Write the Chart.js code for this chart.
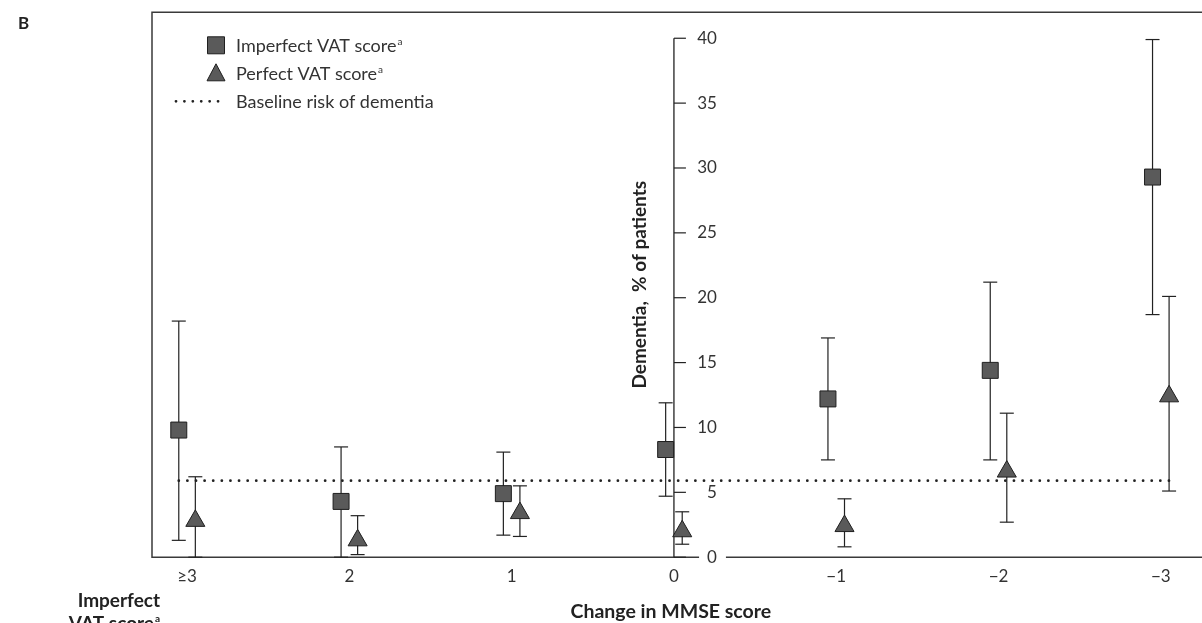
<!DOCTYPE html>
<html>
<head>
<meta charset="utf-8">
<script src="https://cdn.jsdelivr.net/npm/chart.js@4.4.0/dist/chart.umd.min.js"></script>
<style>
  html, body { margin: 0; padding: 0; background: #fff; }
</style>
</head>
<body>
<canvas id="chart" width="1202" height="623"></canvas>
<script>
// change in MMSE score (x categories)
var categories = ['≥3', '2', '1', '0', '−1', '−2', '−3'];

// dementia, % of patients -- imperfect VAT score
var imperfect   = [9.8, 4.3, 4.9, 8.3, 12.2, 14.4, 29.3];
var imperfectLo = [1.3, 0, 1.7, 4.7, 7.5, 7.5, 18.7];
var imperfectHi = [18.2, 8.5, 8.1, 11.9, 16.9, 21.2, 39.9];

// perfect VAT score
var perfect   = [2.8, 1.3, 3.4, 2.0, 2.4, 6.6, 12.4];
var perfectLo = [0, 0.2, 1.6, 1.0, 0.8, 2.7, 5.1];
var perfectHi = [6.2, 3.2, 5.5, 3.5, 4.5, 11.1, 20.1];

var baselineRisk = 5.9;
var yTicks = [0, 5, 10, 15, 20, 25, 30, 35, 40];

var shift = 0.051;   // squares left of the category, triangles right
var ink = '#222';
var markerFill = '#5a5a5a';
var font = 'Lato, "Open Sans", sans-serif';

function points(vals, dx) {
  return vals.map(function (v, i) { return { x: i + dx, y: v }; });
}

// each bar is two points and a gap, so one line dataset draws them all
function errorBars(lo, hi, dx) {
  var out = [];
  lo.forEach(function (v, i) {
    out.push({ x: i + dx, y: v }, { x: i + dx, y: hi[i] }, { x: i + dx, y: null });
  });
  return out;
}

var decor = {
  id: 'decor',
  beforeDatasetsDraw: function (chart) {
    var ctx = chart.ctx, a = chart.chartArea;
    var xs = chart.scales.x, ys = chart.scales.y;
    ctx.save();

    // plot frame (open on the right)
    ctx.strokeStyle = '#3a3a3a';
    ctx.lineWidth = 1.5;
    ctx.beginPath();
    ctx.moveTo(1202, a.top); ctx.lineTo(a.left, a.top);
    ctx.lineTo(a.left, a.bottom); ctx.lineTo(1202, a.bottom);
    ctx.stroke();

    // y axis sits on the "0" category
    var ax = xs.getPixelForValue(categories.indexOf('0'));
    ctx.strokeStyle = ink;
    ctx.lineWidth = 1.3;
    ctx.beginPath();
    ctx.moveTo(ax, ys.getPixelForValue(0));
    ctx.lineTo(ax, ys.getPixelForValue(yTicks[yTicks.length - 1]));
    ctx.stroke();

    ctx.font = '17px ' + font;
    ctx.textAlign = 'right';
    ctx.textBaseline = 'middle';
    ys.ticks.forEach(function (t) {
      var py = ys.getPixelForValue(t.value);
      ctx.strokeStyle = ink;
      ctx.lineWidth = 1.2;
      ctx.beginPath();
      ctx.moveTo(ax, py); ctx.lineTo(ax + 12, py);
      ctx.stroke();
      var s = String(t.value);
      var w = ctx.measureText(s).width;
      ctx.fillStyle = '#fff';
      ctx.fillRect(ax + 43 - w - 8, py - 9, w + 17, 18);
      ctx.fillStyle = '#333';
      ctx.fillText(s, ax + 43, py);
    });

    // y axis title
    ctx.save();
    ctx.translate(ax - 34, (a.top + a.bottom) / 2);
    ctx.rotate(-Math.PI / 2);
    ctx.font = 'bold 19px ' + font;
    ctx.textAlign = 'center';
    ctx.fillStyle = ink;
    ctx.fillText('Dementia,  % of patients', 0, 0);
    ctx.restore();

    ctx.restore();
  },
  afterDraw: function (chart) {
    var ctx = chart.ctx, a = chart.chartArea;
    ctx.save();

    // legend inside the plot
    var mx = a.left + 64, tx = a.left + 84;
    var rows = [a.top + 33, a.top + 61, a.top + 89];
    ctx.fillStyle = markerFill;
    ctx.strokeStyle = '#1f1f1f';
    ctx.lineWidth = 1;
    ctx.beginPath();
    ctx.rect(mx - 8.5, rows[0] - 8.5, 17, 17);
    ctx.fill(); ctx.stroke();
    ctx.beginPath();
    ctx.moveTo(mx, rows[1] - 9.5);
    ctx.lineTo(mx + 9, rows[1] + 7.5);
    ctx.lineTo(mx - 9, rows[1] + 7.5);
    ctx.closePath();
    ctx.fill(); ctx.stroke();
    ctx.strokeStyle = ink;
    ctx.lineWidth = 2.8;
    ctx.lineCap = 'round';
    ctx.setLineDash([0.01, 8.4]);
    ctx.beginPath();
    ctx.moveTo(mx - 40, rows[2]); ctx.lineTo(mx + 2.5, rows[2]);
    ctx.stroke();
    ctx.setLineDash([]);

    var labels = [['Imperfect VAT score', 'a'], ['Perfect VAT score', 'a'], ['Baseline risk of dementia', '']];
    ctx.textAlign = 'left';
    ctx.textBaseline = 'middle';
    labels.forEach(function (l, i) {
      ctx.font = '18px ' + font;
      ctx.fillStyle = '#333';
      ctx.fillText(l[0], tx, rows[i] + 1);
      if (l[1]) {
        var w = ctx.measureText(l[0]).width;
        ctx.font = '10px ' + font;
        ctx.fillText(l[1], tx + w + 1, rows[i] - 4);
      }
    });

    // row label under the axis, left side
    ctx.font = 'bold 19px ' + font;
    ctx.fillStyle = ink;
    ctx.textAlign = 'right';
    ctx.textBaseline = 'alphabetic';
    ctx.fillText('Imperfect', 160, 607);
    ctx.fillText('VAT score', 154, 630);
    ctx.font = 'bold 10px ' + font;
    ctx.textAlign = 'left';
    ctx.fillText('a', 155, 622);

    // panel letter
    ctx.font = 'bold 17px ' + font;
    ctx.fillText('B', 18, 29);
    ctx.restore();
  }
};

new Chart(document.getElementById('chart'), {
  type: 'scatter',
  data: {
    datasets: [{
      label: 'Imperfect VAT score',
      data: points(imperfect, -shift),
      pointStyle: 'rect',
      pointRadius: 11.3,
      backgroundColor: markerFill,
      borderColor: '#1f1f1f',
      borderWidth: 1,
      order: 0
    }, {
      label: 'Perfect VAT score',
      data: points(perfect, shift),
      pointStyle: 'triangle',
      pointRadius: 11,
      backgroundColor: markerFill,
      borderColor: '#1f1f1f',
      borderWidth: 1,
      order: 0
    }, {
      label: 'Imperfect CI',
      data: errorBars(imperfectLo, imperfectHi, -shift),
      showLine: true,
      spanGaps: false,
      borderColor: ink,
      borderWidth: 1.2,
      pointStyle: 'line',
      pointRadius: 7,
      pointBorderColor: ink,
      pointBorderWidth: 1.2,
      clip: false,
      order: 2
    }, {
      label: 'Perfect CI',
      data: errorBars(perfectLo, perfectHi, shift),
      showLine: true,
      spanGaps: false,
      borderColor: ink,
      borderWidth: 1.2,
      pointStyle: 'line',
      pointRadius: 7,
      pointBorderColor: ink,
      pointBorderWidth: 1.2,
      clip: false,
      order: 2
    }, {
      label: 'Baseline risk of dementia',
      data: [{ x: -shift, y: baselineRisk }, { x: categories.length - 1 + shift, y: baselineRisk }],
      showLine: true,
      borderColor: ink,
      borderWidth: 2.8,
      borderDash: [0.01, 8.6],
      borderCapStyle: 'round',
      pointRadius: 0,
      order: 1
    }]
  },
  options: {
    responsive: false,
    animation: false,
    events: [],
    layout: { padding: { left: 152, right: 0, top: 12, bottom: 0 } },
    plugins: {
      legend: { display: false },
      tooltip: { enabled: false }
    },
    scales: {
      x: {
        type: 'linear',
        min: -0.216,
        max: 6.178,
        afterBuildTicks: function (s) {
          s.ticks = categories.map(function (c, i) { return { value: i }; });
        },
        ticks: {
          autoSkip: false,
          maxRotation: 0,
          padding: 9,
          color: '#333',
          font: { family: font, size: 17 },
          callback: function (v) { return categories[v]; }
        },
        grid: { display: false, drawTicks: false },
        border: { display: false },
        title: {
          display: true,
          text: 'Change in MMSE score',
          color: ink,
          font: { family: font, size: 19.5, weight: 'bold' },
          padding: { top: 4, bottom: 0 }
        }
      },
      y: {
        display: false,
        min: 0,
        max: 42,
        afterBuildTicks: function (s) {
          s.ticks = yTicks.map(function (v) { return { value: v }; });
        }
      }
    }
  },
  plugins: [decor]
});
</script>
</body>
</html>
